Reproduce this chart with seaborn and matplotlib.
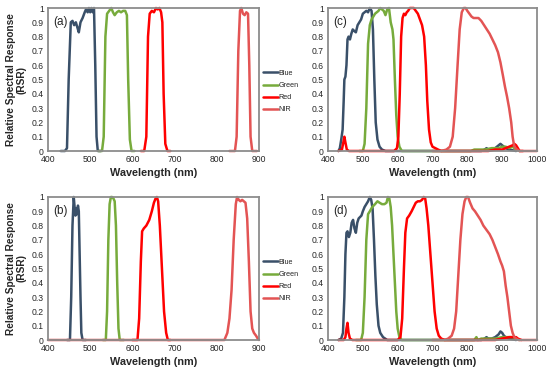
import numpy as np
import pandas as pd
import matplotlib
matplotlib.use("Agg")
import matplotlib.pyplot as plt
import seaborn as sns

bands = ["Blue", "Green", "Red", "NIR"]
colors = ["#3a5069", "#77ab3c", "#ff0000", "#e35454"]
panel_labels = ["(a)", "(b)", "(c)", "(d)"]
x_ticks_left = [400, 500, 600, 700, 800, 900]
x_ticks_right = [400, 500, 600, 700, 800, 900, 1000]
y_ticks = [0, 0.1, 0.2, 0.3, 0.4, 0.5, 0.6, 0.7, 0.8, 0.9, 1]

# Panel (a)
a_blue_x = [430, 440, 445, 449, 454, 458, 462, 466, 470, 473, 477, 482, 487, 490, 494, 497, 500, 503, 506, 509, 512, 515, 518, 525]
a_blue_y = [0, 0, 0.02, 0.5, 0.9, 0.91, 0.88, 0.9, 0.86, 0.83, 0.9, 0.93, 0.97, 0.99, 0.97, 1.0, 0.97, 1.0, 0.97, 1.0, 0.6, 0.1, 0, 0]
a_green_x = [520, 528, 532, 536, 540, 545, 550, 554, 558, 563, 568, 573, 578, 583, 587, 590, 594, 598, 605]
a_green_y = [0, 0, 0.1, 0.8, 0.96, 0.98, 1.0, 0.97, 0.95, 0.97, 0.98, 0.97, 0.98, 0.98, 0.95, 0.5, 0.08, 0, 0]
a_red_x = [620, 628, 633, 637, 641, 646, 651, 656, 660, 664, 668, 671, 674, 678, 683, 690]
a_red_y = [0, 0, 0.1, 0.8, 0.96, 0.98, 0.97, 1.0, 0.99, 1.0, 0.97, 0.9, 0.4, 0.05, 0, 0]
a_nir_x = [830, 843, 847, 851, 855, 858, 862, 866, 870, 874, 877, 880, 884, 895]
a_nir_y = [0, 0, 0.1, 0.7, 0.98, 1.0, 0.96, 0.95, 0.97, 0.96, 0.6, 0.1, 0, 0]

# Panel (b)
b_blue_x = [445, 452, 455, 458, 461, 463, 465, 467, 469, 471, 473, 475, 477, 479, 482, 490]
b_blue_y = [0, 0, 0.3, 0.8, 1.0, 0.93, 0.87, 0.92, 0.88, 0.94, 0.9, 0.6, 0.3, 0.05, 0, 0]
b_green_x = [530, 537, 540, 543, 546, 549, 552, 555, 558, 561, 564, 567, 570, 580]
b_green_y = [0, 0, 0.2, 0.7, 0.95, 1.0, 1.0, 0.99, 0.97, 0.8, 0.4, 0.08, 0, 0]
b_red_x = [600, 612, 616, 620, 623, 627, 633, 640, 646, 651, 655, 658, 661, 665, 670, 675, 680, 684, 690]
b_red_y = [0, 0, 0.15, 0.55, 0.76, 0.78, 0.8, 0.84, 0.9, 0.96, 0.99, 1.0, 0.97, 0.8, 0.5, 0.2, 0.05, 0, 0]
b_nir_x = [400, 818, 825, 830, 835, 840, 845, 848, 852, 856, 860, 864, 868, 872, 876, 880, 884, 888, 893, 897, 900]
b_nir_y = [0, 0, 0.05, 0.15, 0.35, 0.7, 0.95, 1.0, 0.98, 0.97, 0.98, 0.97, 0.96, 0.85, 0.55, 0.2, 0.08, 0.05, 0.03, 0.01, 0]

# Panel (c)
c_blue_x = [430, 434, 438, 442, 445, 447, 450, 453, 456, 459, 463, 467, 471, 475, 480, 485, 490, 495, 500, 505, 510, 515, 520, 525, 529, 533, 537, 542, 548, 555, 565, 580,
            840, 850, 855, 860, 870, 880, 890, 895, 900, 910, 920, 940]
c_blue_y = [0, 0.02, 0.08, 0.15, 0.35, 0.5, 0.52, 0.6, 0.78, 0.8, 0.78, 0.82, 0.85, 0.84, 0.83, 0.88, 0.9, 0.92, 0.96, 0.97, 0.98, 0.97, 1.0, 0.98, 0.85, 0.5, 0.2, 0.08, 0.03, 0.01, 0, 0,
            0, 0.01, 0.02, 0.01, 0.01, 0.02, 0.04, 0.05, 0.04, 0.02, 0.01, 0]
c_green_x = [490, 500, 505, 510, 515, 520, 525, 530, 535, 540, 545, 550, 555, 560, 565, 570, 575, 580, 585, 588, 592, 596, 600, 605, 612, 620,
             810, 820, 830, 850, 870, 890, 900, 910, 920, 930, 940, 950]
c_green_y = [0, 0, 0.05, 0.3, 0.75, 0.88, 0.92, 0.94, 0.96, 0.97, 0.98, 1.0, 0.99, 0.98, 0.95, 0.99, 1.0, 0.9, 0.85, 0.78, 0.5, 0.25, 0.1, 0.03, 0, 0,
             0, 0.01, 0.01, 0.01, 0.02, 0.02, 0.03, 0.03, 0.02, 0.03, 0.01, 0]
c_red_x = [430, 440, 444, 447, 450, 454, 460, 590, 598, 602, 606, 610, 614, 618, 622, 626, 630, 635, 640, 646, 652, 658, 664, 670, 676, 681, 685, 690, 695, 700, 708, 716, 725, 740,
           860, 880, 900, 910, 920, 930, 935, 940, 945, 950, 960]
c_red_y = [0, 0.01, 0.06, 0.1, 0.06, 0.01, 0, 0, 0.02, 0.1, 0.4, 0.8, 0.93, 0.96, 0.95, 0.97, 0.98, 1.0, 1.0, 1.0, 0.98, 0.96, 0.92, 0.88, 0.8, 0.6, 0.35, 0.15, 0.06, 0.03, 0.02, 0.01, 0, 0,
           0, 0.01, 0.01, 0.02, 0.03, 0.04, 0.05, 0.04, 0.02, 0, 0]
c_nir_x = [700, 725, 740, 750, 758, 765, 772, 778, 784, 790, 795, 800, 806, 812, 818, 825, 832, 840, 848, 856, 864, 872, 880, 888, 895, 902, 908, 914, 920, 926, 930, 934, 938, 943, 950, 1000]
c_nir_y = [0, 0, 0.01, 0.03, 0.1, 0.3, 0.6, 0.85, 0.97, 1.0, 1.0, 0.98, 0.96, 0.94, 0.93, 0.93, 0.93, 0.91, 0.88, 0.85, 0.82, 0.78, 0.74, 0.69, 0.62, 0.53, 0.45, 0.38, 0.3, 0.2, 0.1, 0.04, 0.02, 0.01, 0, 0]

# Panel (d)
d_blue_x = [430, 438, 443, 447, 450, 453, 456, 460, 464, 468, 472, 476, 480, 484, 488, 492, 496, 500, 505, 510, 515, 520, 524, 528, 532, 536, 540, 545, 550, 558, 570, 580,
            840, 850, 855, 860, 870, 880, 890, 895, 900, 905, 910, 920, 940]
d_blue_y = [0, 0.01, 0.05, 0.3, 0.6, 0.75, 0.76, 0.72, 0.75, 0.82, 0.84, 0.78, 0.75, 0.82, 0.85, 0.86, 0.87, 0.9, 0.93, 0.95, 0.97, 1.0, 0.98, 0.92, 0.7, 0.45, 0.25, 0.1, 0.05, 0.02, 0, 0,
            0, 0.01, 0.02, 0.01, 0.01, 0.02, 0.04, 0.06, 0.05, 0.03, 0.02, 0.01, 0]
d_green_x = [480, 495, 500, 505, 510, 515, 520, 527, 535, 542, 548, 555, 562, 568, 572, 576, 580, 584, 588, 592, 596, 600, 605, 612, 620,
             820, 826, 830, 840, 860, 880, 900, 920, 930, 940, 950]
d_green_y = [0, 0, 0.05, 0.3, 0.7, 0.88, 0.9, 0.93, 0.95, 0.97, 0.96, 0.95, 0.95, 0.96, 1.0, 0.99, 0.93, 0.8, 0.6, 0.4, 0.2, 0.08, 0.02, 0, 0,
             0, 0.02, 0, 0.01, 0.01, 0.01, 0.02, 0.02, 0.02, 0.01, 0]
d_red_x = [430, 445, 450, 453, 456, 459, 463, 470, 600, 608, 613, 618, 622, 627, 633, 640, 646, 652, 658, 664, 670, 675, 679, 683, 688, 694, 700, 706, 712, 718, 725, 735, 750,
           880, 900, 920, 930, 940, 945, 955]
d_red_y = [0, 0, 0.02, 0.08, 0.12, 0.05, 0.01, 0, 0, 0.02, 0.15, 0.5, 0.75, 0.85, 0.87, 0.9, 0.93, 0.96, 0.97, 0.97, 0.98, 1.0, 0.99, 0.92, 0.8, 0.6, 0.4, 0.2, 0.08, 0.03, 0.01, 0, 0,
           0, 0.01, 0.02, 0.02, 0.02, 0.01, 0]
d_nir_x = [700, 735, 745, 755, 762, 768, 774, 780, 786, 792, 797, 802, 808, 815, 822, 830, 838, 846, 855, 864, 872, 880, 888, 895, 900, 905, 910, 915, 920, 925, 930, 935, 940, 947, 960, 1000]
d_nir_y = [0, 0, 0.01, 0.03, 0.08, 0.2, 0.45, 0.7, 0.88, 0.97, 1.0, 1.0, 0.96, 0.92, 0.9, 0.87, 0.84, 0.8, 0.77, 0.74, 0.7, 0.65, 0.6, 0.55, 0.52, 0.48, 0.38, 0.3, 0.2, 0.1, 0.05, 0.02, 0.01, 0, 0, 0]

panels = [
    [(a_blue_x, a_blue_y), (a_green_x, a_green_y), (a_red_x, a_red_y), (a_nir_x, a_nir_y)],
    [(b_blue_x, b_blue_y), (b_green_x, b_green_y), (b_red_x, b_red_y), (b_nir_x, b_nir_y)],
    [(c_blue_x, c_blue_y), (c_green_x, c_green_y), (c_red_x, c_red_y), (c_nir_x, c_nir_y)],
    [(d_blue_x, d_blue_y), (d_green_x, d_green_y), (d_red_x, d_red_y), (d_nir_x, d_nir_y)],
]

sns.set_theme(style="white")
plt.rcParams['font.family'] = ['Liberation Sans', 'DejaVu Sans']

fig = plt.figure(figsize=(5.5, 3.74), dpi=100)
W, H = 550.0, 374.0
rects = [
    (48 / W, 1 - 151 / H, 211 / W, 143 / H),   # a
    (48 / W, 1 - 340 / H, 211 / W, 143 / H),   # b
    (328 / W, 1 - 151 / H, 209 / W, 143 / H),  # c
    (328 / W, 1 - 340 / H, 209 / W, 143 / H),  # d
]
palette = dict(zip(bands, colors))

for i, (series, rect) in enumerate(zip(panels, rects)):
    ax = fig.add_axes(rect)
    rows = []
    for band, (xs, ys) in zip(bands, series):
        for xv, yv in zip(xs, ys):
            rows.append((band, xv, yv))
    df = pd.DataFrame(rows, columns=["band", "wl", "rsr"])
    sns.lineplot(data=df, x="wl", y="rsr", hue="band", hue_order=bands, palette=palette,
                 estimator=None, sort=False, linewidth=1.8, ax=ax, legend=(i in (0, 1)))
    for line in ax.get_lines():
        line.set_clip_on(False)
        line.set_solid_joinstyle("round")
    right = i >= 2
    ticks = x_ticks_right if right else x_ticks_left
    ax.set_xlim(ticks[0], ticks[-1])
    ax.set_ylim(0, 1)
    ax.set_xticks(ticks)
    ax.set_xticklabels([str(t) for t in ticks], fontsize=6.2)
    ax.set_yticks(y_ticks)
    ax.set_yticklabels([("%g" % t) for t in y_ticks], fontsize=6.2)
    ax.tick_params(length=0, pad=3)
    for s in ax.spines.values():
        s.set_color("#8c8c8c")
        s.set_linewidth(1.3)
    ax.set_xlabel("Wavelength (nm)", fontsize=7.8, fontweight="bold", labelpad=3)
    if not right:
        ax.set_ylabel("Relative Spectral Response\n(RSR)", fontsize=7.3, fontweight="bold", labelpad=4,
                      linespacing=1.0)
    else:
        ax.set_ylabel("")
    ax.text(0.025, 0.9, panel_labels[i], transform=ax.transAxes, fontsize=8.5, va="center", ha="left")
    if i in (0, 1):
        leg = ax.legend(loc="center left", bbox_to_anchor=(1.0, 0.415), frameon=False,
                        fontsize=5.2, handlelength=2.0, handletextpad=0.15,
                        labelspacing=0.7, borderaxespad=0.2)
        for line in leg.get_lines():
            line.set_linewidth(1.8)

fig.savefig("out.png", dpi=100)
